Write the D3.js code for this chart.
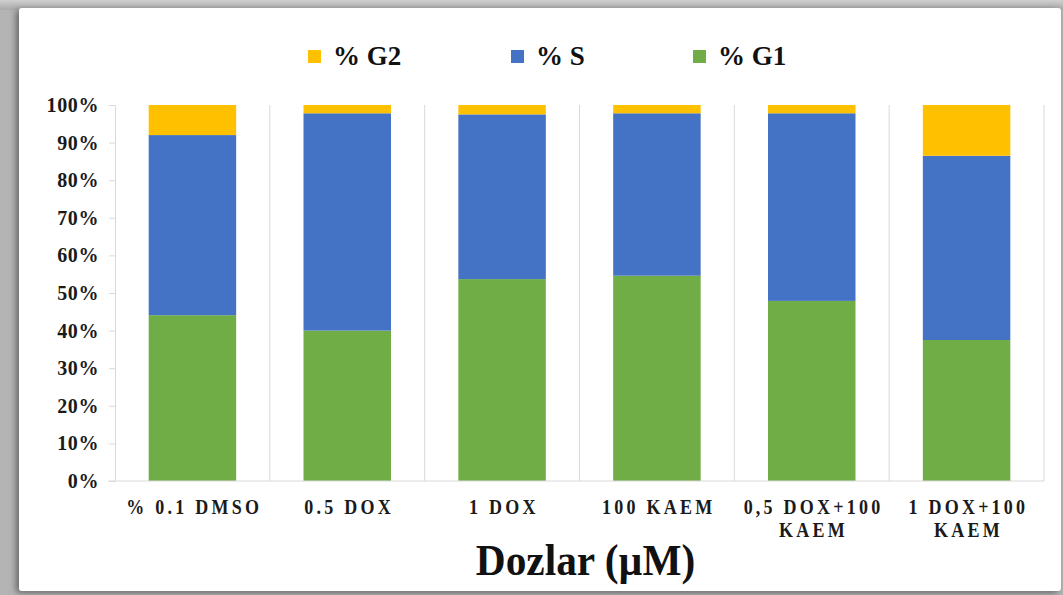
<!DOCTYPE html>
<html>
<head>
<meta charset="utf-8">
<script src="https://cdn.jsdelivr.net/npm/d3@7"></script>
<style>
  html, body { margin: 0; padding: 0; background: #b4b4b4; }
  svg { display: block; }
</style>
</head>
<body>
<svg id="chart" width="1063" height="595"></svg>
<script>
// Cell-cycle phase distribution per dose group
const categories = [
  ["% 0.1 DMSO"],
  ["0.5 DOX"],
  ["1 DOX"],
  ["100 KAEM"],
  ["0,5 DOX+100", "KAEM"],
  ["1 DOX+100", "KAEM"]
];
const g1Values = [44.1, 40.0, 53.7, 54.6, 47.9, 37.5];
const sValues  = [47.9, 57.8, 43.8, 43.2, 49.9, 49.0];
const g2Values = [8.0, 2.2, 2.5, 2.2, 2.2, 13.5];
const yTicks = [0, 10, 20, 30, 40, 50, 60, 70, 80, 90, 100];
const seriesNames = ["% G1", "% S", "% G2"];
const legendOrder = ["% G2", "% S", "% G1"];
const seriesColors = { "% G1": "#70AD47", "% S": "#4472C4", "% G2": "#FFC000" };
const xTitle = "Dozlar (\u00B5M)";

const svg = d3.select("#chart");
const W = 1063, H = 595;
const serif = "'Liberation Serif', 'Times New Roman', serif";

// framed card with soft shadow
const defs = svg.append("defs");
const shadow = defs.append("filter").attr("id", "shadow")
  .attr("x", "-5%").attr("y", "-5%").attr("width", "110%").attr("height", "110%");
shadow.append("feDropShadow").attr("dx", -3).attr("dy", 2)
  .attr("stdDeviation", 3).attr("flood-color", "#555").attr("flood-opacity", 0.8);
const topFade = defs.append("linearGradient").attr("id", "topFade")
  .attr("x1", 0).attr("y1", 0).attr("x2", 0).attr("y2", 1);
topFade.append("stop").attr("offset", "0%").attr("stop-color", "#d0d0d0");
topFade.append("stop").attr("offset", "100%").attr("stop-color", "#a8a8a8");
svg.append("rect").attr("width", W).attr("height", 10).attr("fill", "url(#topFade)");

svg.append("rect")
  .attr("x", 19).attr("y", 8).attr("width", 1042).attr("height", 583)
  .attr("rx", 3).attr("fill", "#ffffff").attr("filter", "url(#shadow)");

const plot = { left: 115, right: 1044, top: 105, bottom: 481 };

const rows = categories.map((c, i) => ({
  key: i, "% G1": g1Values[i], "% S": sValues[i], "% G2": g2Values[i]
}));
const stacked = d3.stack().keys(seriesNames)(rows);

const x = d3.scaleBand()
  .domain(categories.map((c, i) => i))
  .range([plot.left, plot.right])
  .paddingInner(0.435).paddingOuter(0.2175);
const y = d3.scaleLinear().domain([0, 100]).range([plot.bottom, plot.top]);

// category separators
const step = x.step();
const seps = d3.range(1, categories.length + 1).map(k => plot.left + k * step);
svg.append("g").selectAll("line").data(seps).join("line")
  .attr("x1", d => d).attr("x2", d => d)
  .attr("y1", plot.top).attr("y2", plot.bottom)
  .attr("stroke", "#d9d9d9").attr("stroke-width", 1);

// stacked bars
svg.append("g").selectAll("g").data(stacked).join("g")
  .attr("fill", d => seriesColors[d.key])
  .selectAll("rect").data(d => d).join("rect")
  .attr("x", d => x(d.data.key))
  .attr("width", x.bandwidth())
  .attr("y", d => y(d[1]))
  .attr("height", d => y(d[0]) - y(d[1]));

// y axis
const yAxis = svg.append("g")
  .attr("transform", `translate(${plot.left},0)`)
  .call(d3.axisLeft(y).tickValues(yTicks).tickFormat(d => d + "%").tickSize(6).tickPadding(10));
yAxis.select(".domain").attr("stroke", "#d9d9d9");
yAxis.selectAll(".tick text")
  .attr("font-family", serif)
  .attr("font-weight", "bold").attr("font-size", 20)
  .attr("letter-spacing", 0.6).attr("fill", "#1a1a1a");
yAxis.selectAll(".tick line").attr("stroke", "#d9d9d9");

// x axis line
svg.append("line")
  .attr("x1", plot.left - 7).attr("x2", plot.right)
  .attr("y1", plot.bottom).attr("y2", plot.bottom)
  .attr("stroke", "#d9d9d9");

// category labels: tall, slightly narrowed, spaced out
const xl = svg.append("g").selectAll("text").data(categories).join("text")
  .attr("transform", (d, i) => `translate(${x(i) + x.bandwidth() / 2},514) scale(0.9,1)`)
  .attr("text-anchor", "middle")
  .attr("font-family", serif)
  .attr("font-weight", "bold").attr("font-size", 20)
  .attr("letter-spacing", 3.6).attr("fill", "#1a1a1a");
xl.selectAll("tspan").data(d => d).join("tspan")
  .attr("x", 2)
  .attr("dy", (d, j) => j === 0 ? 0 : 23)
  .text(d => d);

// axis title
svg.append("text")
  .attr("transform", `translate(${(plot.left + plot.right) / 2 + 6},575) scale(0.94,1)`)
  .attr("text-anchor", "middle")
  .attr("font-family", serif)
  .attr("font-weight", "bold").attr("font-size", 44)
  .attr("fill", "#111").text(xTitle);

// legend
const legendX = [308, 511, 693];
const lg = svg.append("g").selectAll("g").data(legendOrder).join("g")
  .attr("transform", (d, i) => `translate(${legendX[i]},50)`);
lg.append("rect").attr("width", 13).attr("height", 13)
  .attr("fill", d => seriesColors[d]);
lg.append("text").attr("x", 25).attr("y", 15)
  .attr("font-family", serif)
  .attr("font-weight", "bold").attr("font-size", 27)
  .attr("fill", "#111").text(d => d);
</script>
</body>
</html>
